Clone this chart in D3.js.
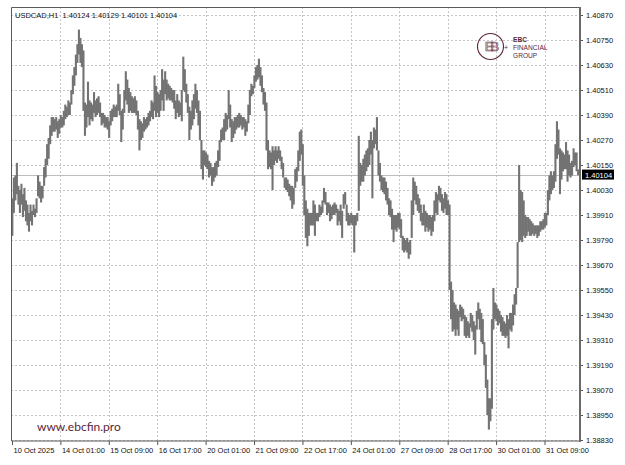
<!DOCTYPE html>
<html>
<head>
<meta charset="utf-8">
<script src="https://cdnjs.cloudflare.com/ajax/libs/d3/7.8.5/d3.min.js"></script>
<style>
html, body { margin: 0; padding: 0; background: #fff; }
svg { display: block; font-family: "Liberation Sans", Arial, sans-serif; }
</style>
</head>
<body>
<div id="chart"></div>
<script>
'use strict';

// Chart data.
var symbol = 'USDCAD,H1';
var lastBar = [1.40124, 1.40129, 1.40101, 1.40104]; // open, high, low, close

var xTickLabels = ['10 Oct 2025', '14 Oct 01:00', '15 Oct 09:00', '16 Oct 17:00',
    '20 Oct 01:00', '21 Oct 09:00', '22 Oct 17:00', '24 Oct 01:00',
    '27 Oct 09:00', '28 Oct 17:00', '30 Oct 01:00', '31 Oct 09:00'];
// Bar index of each time label (one label every 32 hourly bars).
var xTickBars = [0, 32, 64, 96, 128, 160, 192, 224, 256, 288, 320, 352];

var yTicks = [1.38830, 1.38950, 1.39070, 1.39190, 1.39310, 1.39430, 1.39550,
    1.39670, 1.39790, 1.39910, 1.40030, 1.40150, 1.40270, 1.40390, 1.40510,
    1.40630, 1.40750, 1.40870];

// Hourly highs and lows.
var highs = [
    1.3999,1.4009,1.4010,1.4016,1.4005,1.4003,1.4006,1.4001,1.4004,1.3998,
    1.3996,1.3992,1.3996,1.3993,1.3996,1.3994,1.3999,1.4010,1.4007,1.4005,
    1.4005,1.4014,1.4018,1.4025,1.4028,1.4034,1.4038,1.4038,1.4037,1.4038,
    1.4036,1.4037,1.4039,1.4038,1.4041,1.4044,1.4043,1.4046,1.4045,1.4051,
    1.4058,1.4062,1.4068,1.4073,1.4080,1.4076,1.4073,1.4070,1.4045,1.4044,
    1.4055,1.4046,1.4045,1.4044,1.4050,1.4046,1.4047,1.4048,1.4045,1.4040,
    1.4040,1.4039,1.4038,1.4038,1.4036,1.4041,1.4042,1.4044,1.4043,1.4044,
    1.4054,1.4049,1.4041,1.4042,1.4051,1.4060,1.4056,1.4052,1.4050,1.4048,
    1.4047,1.4048,1.4046,1.4041,1.4037,1.4036,1.4035,1.4038,1.4037,1.4038,
    1.4040,1.4041,1.4046,1.4045,1.4058,1.4053,1.4050,1.4049,1.4051,1.4061,
    1.4056,1.4060,1.4056,1.4054,1.4053,1.4052,1.4051,1.4051,1.4046,1.4049,
    1.4046,1.4045,1.4051,1.4067,1.4061,1.4054,1.4049,1.4043,1.4041,1.4046,
    1.4049,1.4054,1.4051,1.4046,1.4041,1.4027,1.4022,1.4022,1.4021,1.4020,
    1.4017,1.4016,1.4014,1.4014,1.4016,1.4017,1.4022,1.4027,1.4032,1.4033,
    1.4037,1.4040,1.4039,1.4051,1.4044,1.4037,1.4036,1.4038,1.4038,1.4039,
    1.4040,1.4039,1.4038,1.4038,1.4037,1.4036,1.4044,1.4051,1.4054,1.4053,
    1.4058,1.4062,1.4063,1.4066,1.4062,1.4058,1.4052,1.4050,1.4045,1.4027,
    1.4022,1.4021,1.4024,1.4022,1.4024,1.4022,1.4024,1.4022,1.4019,1.4016,
    1.4009,1.4009,1.4008,1.4006,1.4005,1.4005,1.4004,1.4013,1.4014,1.4022,
    1.4031,1.4032,1.4025,1.4010,1.3998,1.3994,1.3992,1.3992,1.3992,1.3998,
    1.3996,1.3992,1.3992,1.3996,1.3995,1.3998,1.4004,1.4002,1.3997,1.3997,
    1.3996,1.3995,1.3996,1.3997,1.3996,1.3994,1.3993,1.3996,1.3993,1.4001,
    1.4002,1.3996,1.3992,1.3991,1.3992,1.3991,1.3991,1.3991,1.3992,1.4029,
    1.4016,1.4015,1.4018,1.4020,1.4022,1.4023,1.4027,1.4031,1.4027,1.4033,
    1.4032,1.4038,1.4022,1.4016,1.4010,1.4009,1.4009,1.4007,1.4004,1.3999,
    1.3998,1.3994,1.3991,1.3991,1.3991,1.3992,1.3992,1.3989,1.3981,1.3980,
    1.3979,1.3980,1.3978,1.3979,1.3998,1.4009,1.4007,1.4005,1.4001,1.3999,
    1.3996,1.3992,1.3996,1.3993,1.3992,1.3991,1.3991,1.3990,1.3991,1.3998,
    1.4002,1.4001,1.4005,1.4004,1.4001,1.3999,1.4002,1.4001,1.3998,1.3996,
    1.3959,1.3955,1.3949,1.3948,1.3946,1.3945,1.3948,1.3947,1.3946,1.3943,
    1.3942,1.3940,1.3939,1.3944,1.3943,1.3940,1.3938,1.3945,1.3949,1.3946,
    1.3944,1.3941,1.3930,1.3924,1.3912,1.3903,1.3903,1.3941,1.3956,1.3949,
    1.3948,1.3946,1.3945,1.3943,1.3942,1.3940,1.3939,1.3943,1.3941,1.3944,
    1.3944,1.3948,1.3953,1.3956,1.3978,1.4015,1.4003,1.4002,1.3998,1.3991,
    1.3990,1.3990,1.3989,1.3988,1.3987,1.3986,1.3986,1.3986,1.3986,1.3988,
    1.3988,1.3989,1.3992,1.3992,1.4003,1.4010,1.4012,1.4010,1.4012,1.4025,
    1.4036,1.4032,1.4023,1.4022,1.4021,1.4020,1.4026,1.4022,1.4020,1.4016,
    1.4017,1.4023,1.4021,1.4021,1.40129
];
var lows = [
    1.3981,1.3992,1.3998,1.4001,1.3996,1.3992,1.3996,1.3990,1.3993,1.3988,
    1.3986,1.3983,1.3988,1.3986,1.3991,1.3990,1.3992,1.4000,1.3999,1.3997,
    1.3999,1.4005,1.4009,1.4015,1.4018,1.4025,1.4029,1.4031,1.4031,1.4032,
    1.4028,1.4030,1.4033,1.4033,1.4034,1.4037,1.4038,1.4039,1.4039,1.4044,
    1.4049,1.4053,1.4058,1.4064,1.4068,1.4064,1.4062,1.4041,1.4029,1.4033,
    1.4038,1.4034,1.4037,1.4036,1.4040,1.4038,1.4039,1.4040,1.4038,1.4034,
    1.4035,1.4033,1.4033,1.4032,1.4028,1.4034,1.4036,1.4038,1.4038,1.4038,
    1.4041,1.4039,1.4026,1.4032,1.4040,1.4046,1.4044,1.4040,1.4041,1.4040,
    1.4040,1.4040,1.4039,1.4032,1.4022,1.4027,1.4028,1.4031,1.4032,1.4033,
    1.4034,1.4036,1.4038,1.4037,1.4041,1.4038,1.4040,1.4038,1.4041,1.4046,
    1.4041,1.4049,1.4046,1.4047,1.4046,1.4046,1.4045,1.4042,1.4037,1.4040,
    1.4038,1.4039,1.4036,1.4051,1.4050,1.4045,1.4040,1.4027,1.4032,1.4034,
    1.4037,1.4042,1.4040,1.4034,1.4027,1.4013,1.4008,1.4015,1.4014,1.4013,
    1.4009,1.4010,1.4005,1.4007,1.4009,1.4010,1.4014,1.4017,1.4026,1.4027,
    1.4027,1.4031,1.4032,1.4037,1.4033,1.4026,1.4028,1.4030,1.4032,1.4033,
    1.4033,1.4034,1.4032,1.4033,1.4029,1.4031,1.4035,1.4039,1.4048,1.4049,
    1.4052,1.4055,1.4056,1.4057,1.4053,1.4050,1.4044,1.4041,1.4022,1.4013,
    1.4014,1.4013,1.4003,1.4015,1.4017,1.4016,1.4018,1.4017,1.4013,1.4009,
    1.4004,1.4003,1.4002,1.4000,1.3998,1.3994,1.3996,1.4004,1.4007,1.4012,
    1.4017,1.4020,1.4005,1.3991,1.3980,1.3976,1.3981,1.3986,1.3986,1.3986,
    1.3981,1.3988,1.3988,1.3990,1.3991,1.3992,1.3997,1.3996,1.3991,1.3992,
    1.3988,1.3989,1.3991,1.3991,1.3992,1.3986,1.3988,1.3986,1.3980,1.3994,
    1.3996,1.3988,1.3986,1.3986,1.3987,1.3986,1.3973,1.3986,1.3988,1.3993,
    1.4005,1.4007,1.4007,1.4010,1.4012,1.4014,1.4015,1.4020,1.3999,1.4023,
    1.4025,1.4022,1.4010,1.4007,1.4003,1.4002,1.4001,1.3998,1.3996,1.3991,
    1.3990,1.3984,1.3978,1.3984,1.3983,1.3985,1.3984,1.3980,1.3974,1.3973,
    1.3974,1.3973,1.3970,1.3972,1.3980,1.3991,1.3998,1.3996,1.3993,1.3992,
    1.3988,1.3986,1.3986,1.3983,1.3985,1.3983,1.3984,1.3981,1.3983,1.3988,
    1.3992,1.3991,1.3998,1.3997,1.3993,1.3992,1.3994,1.3991,1.3991,1.3955,
    1.3941,1.3935,1.3936,1.3933,1.3936,1.3933,1.3942,1.3940,1.3941,1.3933,
    1.3932,1.3933,1.3932,1.3937,1.3935,1.3931,1.3924,1.3936,1.3941,1.3936,
    1.3930,1.3929,1.3919,1.3908,1.3895,1.3888,1.3892,1.3898,1.3936,1.3941,
    1.3940,1.3938,1.3939,1.3935,1.3933,1.3933,1.3932,1.3933,1.3927,1.3936,
    1.3935,1.3938,1.3943,1.3948,1.3956,1.3978,1.3979,1.3978,1.3981,1.3980,
    1.3981,1.3983,1.3981,1.3981,1.3982,1.3981,1.3982,1.3980,1.3981,1.3983,
    1.3984,1.3984,1.3985,1.3986,1.3991,1.3998,1.4001,1.4003,1.4004,1.4007,
    1.4018,1.4020,1.4001,1.4008,1.4012,1.4013,1.4013,1.4007,1.4010,1.4009,
    1.4010,1.4014,1.4015,1.4012,1.40101
];

var width = 625, height = 465;
var plot = {left: 11, top: 7, right: 580, bottom: 441};
var maroon = '#5a2638';

var svg = d3.select('#chart').append('svg')
    .attr('width', width)
    .attr('height', height);

var x = d3.scaleLinear()
    .domain([0, 352])
    .range([12, 544.5]);
var y = d3.scaleLinear()
    .domain([1.38830, 1.40870])
    .range([440, 15]);

// Dotted grid.
var grid = svg.append('g')
    .attr('stroke', '#c6c6c6')
    .attr('stroke-dasharray', '2,2')
    .attr('shape-rendering', 'crispEdges');
grid.selectAll('line.h')
    .data(yTicks)
    .enter()
    .append('line')
    .attr('x1', plot.left)
    .attr('x2', plot.right)
    .attr('y1', function(d) { return Math.round(y(d)) + 0.5; })
    .attr('y2', function(d) { return Math.round(y(d)) + 0.5; });
grid.selectAll('line.v')
    .data(xTickBars.slice(1))
    .enter()
    .append('line')
    .attr('y1', plot.top)
    .attr('y2', plot.bottom)
    .attr('x1', function(d) { return Math.round(x(d)) + 0.5; })
    .attr('x2', function(d) { return Math.round(x(d)) + 0.5; });

// Bid line.
svg.append('line')
    .attr('x1', plot.left)
    .attr('x2', plot.right)
    .attr('y1', Math.round(y(lastBar[3])) + 0.5)
    .attr('y2', Math.round(y(lastBar[3])) + 0.5)
    .attr('stroke', '#bdbdbd')
    .attr('shape-rendering', 'crispEdges');

// Price bars (high-low), wide enough to merge into one band.
svg.append('g')
    .selectAll('rect')
    .data(highs)
    .enter()
    .append('rect')
    .attr('x', function(d, i) { return x(i) - 0.7; })
    .attr('width', 2.1)
    .attr('y', function(d) { return y(d); })
    .attr('height', function(d, i) { return Math.max(1.5, y(lows[i]) - y(d)); })
    .attr('fill', '#737373');

// Watermark and logo.
svg.append('text')
    .attr('x', 37)
    .attr('y', 431)
    .attr('font-family', 'Lato, sans-serif')
    .attr('font-size', '12px')
    .attr('fill', maroon)
    .text('www.ebcfin.pro');

var logo = svg.append('g').attr('fill', 'none').attr('stroke', maroon);
logo.append('circle')
    .attr('cx', 490.5).attr('cy', 46.5).attr('r', 13)
    .attr('stroke-width', 1.1);
logo.append('text')
    .attr('x', 490.5).attr('y', 51)
    .attr('text-anchor', 'middle')
    .attr('font-size', '13px')
    .attr('stroke-width', 0.6)
    .attr('letter-spacing', '-3px')
    .text('EB');
logo.append('text')
    .attr('x', 506).attr('y', 49.5)
    .attr('text-anchor', 'middle')
    .attr('font-size', '7px')
    .attr('fill', maroon)
    .attr('stroke', 'none')
    .text('+');
var logoText = svg.append('g')
    .attr('fill', maroon)
    .attr('font-size', '6.6px');
logoText.append('text').attr('x', 513).attr('y', 41.5)
    .attr('font-weight', 'bold').text('EBC');
logoText.append('text').attr('x', 513).attr('y', 49.5).text('FINANCIAL');
logoText.append('text').attr('x', 513).attr('y', 57.5).text('GROUP');

// Axes.
var yAxis = d3.axisRight(y)
    .tickValues(yTicks)
    .tickFormat(d3.format('.5f'))
    .tickSize(3)
    .tickPadding(3);
var yAxisEle = svg.append('g')
    .attr('transform', 'translate(' + plot.right + ',0)')
    .call(yAxis);
yAxisEle.select('.domain').remove();
yAxisEle.selectAll('text')
    .attr('font-size', '7.5px')
    .attr('font-family', '"Liberation Sans", Arial, sans-serif')
    .attr('fill', '#111');
yAxisEle.selectAll('line').attr('stroke', '#555');

var xAxis = d3.axisBottom(x)
    .tickValues(xTickBars)
    .tickFormat(function(d, i) { return xTickLabels[i]; })
    .tickSize(4)
    .tickPadding(3);
var xAxisEle = svg.append('g')
    .attr('transform', 'translate(0,' + plot.bottom + ')')
    .call(xAxis);
xAxisEle.select('.domain').remove();
xAxisEle.selectAll('text')
    .attr('text-anchor', 'start')
    .attr('x', 1)
    .attr('font-size', '7.5px')
    .attr('font-family', '"Liberation Sans", Arial, sans-serif')
    .attr('fill', '#111');
xAxisEle.selectAll('line').attr('stroke', '#555');

// Frame.
svg.append('path')
    .attr('d', 'M' + (plot.left + 0.5) + ',' + (plot.top + 0.5) +
        'H' + plot.right + 'V' + plot.bottom + 'H' + (plot.left + 0.5) + 'Z')
    .attr('fill', 'none')
    .attr('stroke', '#5a5a5a')
    .attr('stroke-width', 1);
svg.append('line')
    .attr('x1', plot.right).attr('x2', plot.right)
    .attr('y1', plot.top).attr('y2', plot.bottom + 1)
    .attr('stroke', '#6a6a6a')
    .attr('stroke-width', 2);

// Current price box.
var bidY = y(lastBar[3]);
svg.append('rect')
    .attr('x', plot.right + 2)
    .attr('y', bidY - 5)
    .attr('width', 32)
    .attr('height', 10)
    .attr('fill', '#000');
svg.append('text')
    .attr('x', plot.right + 5)
    .attr('y', bidY + 3)
    .attr('font-size', '7.5px')
    .attr('fill', '#fff')
    .text(d3.format('.5f')(lastBar[3]));

// Title.
svg.append('text')
    .attr('x', 15)
    .attr('y', 18)
    .attr('font-size', '7.5px')
    .attr('fill', '#111')
    .attr('xml:space', 'preserve')
    .text(symbol + '  ' + lastBar.map(d3.format('.5f')).join(' '));
</script>
</body>
</html>
